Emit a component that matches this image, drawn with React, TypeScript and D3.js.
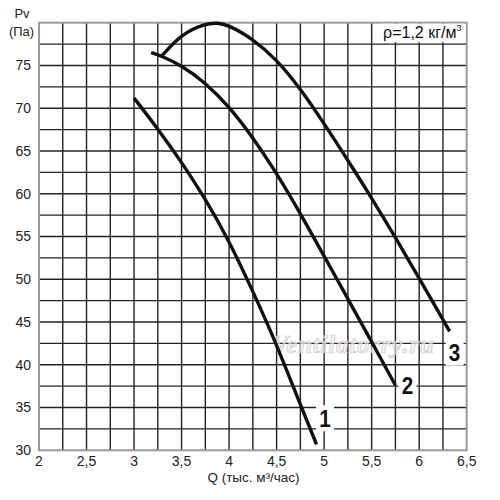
import { useMemo } from "react";
import * as d3 from "d3";

const WIDTH = 500;
const HEIGHT = 500;
const MARGIN = { top: 22.7, right: 33.3, bottom: 49.7, left: 39 };

// flow Q (thousand m3/h) vs pressure Pv (Pa)
const curve1 = [
  [3.0, 71.2], [3.25, 67.6], [3.5, 63.7], [3.75, 59.4], [4.0, 54.5],
  [4.25, 48.6], [4.5, 42.4], [4.75, 35.3], [4.92, 30.7],
];
const curve2 = [
  [3.18, 76.5], [3.29, 76.1], [3.5, 75.0], [3.75, 73.0], [4.0, 70.2],
  [4.25, 66.6], [4.5, 62.4], [4.75, 57.7], [5.0, 52.7], [5.25, 47.7],
  [5.5, 42.7], [5.75, 37.6],
];
const curve3 = [
  [3.29, 76.1], [3.5, 78.7], [3.75, 79.9], [3.88, 80.0], [4.0, 79.7],
  [4.25, 78.1], [4.5, 75.7], [4.75, 72.3], [5.0, 68.2], [5.25, 63.9],
  [5.5, 59.5], [5.75, 54.9], [6.0, 50.1], [6.25, 45.3], [6.32, 43.9],
];
const curves = [curve1, curve2, curve3];
const curveNames = ["1", "2", "3"];

const xTicks = [2, 2.5, 3, 3.5, 4, 4.5, 5, 5.5, 6, 6.5];
const yTicks = [30, 35, 40, 45, 50, 55, 60, 65, 70, 75];

// where each number sits relative to the curve end, px
const LABEL_OFFSETS = [
  [8.5, -17],
  [12, 9],
  [5, 30],
];

const fmt = (v: number) => String(v).replace(".", ",");

export default function App() {
  const bw = WIDTH - MARGIN.left - MARGIN.right;
  const bh = HEIGHT - MARGIN.top - MARGIN.bottom;

  const x = useMemo(() => d3.scaleLinear().domain([2, 6.5]).range([0, bw]), [bw]);
  const y = useMemo(() => d3.scaleLinear().domain([30, 80]).range([bh, 0]), [bh]);

  const line = d3
    .line<number[]>()
    .x((d) => x(d[0]))
    .y((d) => y(d[1]))
    .curve(d3.curveBasis);

  const vGrid = d3.range(2.25, 6.5, 0.25);
  const hGrid = d3.range(32.5, 80, 2.5);

  return (
    <svg
      width={WIDTH}
      height={HEIGHT}
      style={{ position: "absolute", left: 0, top: 0, background: "#fff" }}
      fontFamily="'Liberation Sans', Arial, sans-serif"
    >
      <g transform={`translate(${MARGIN.left},${MARGIN.top})`}>
        {vGrid.map((v) => (
          <line key={"v" + v} x1={x(v)} x2={x(v)} y1={0} y2={bh} stroke="#222" strokeWidth={1.4} />
        ))}
        {hGrid.map((v) => (
          <line key={"h" + v} x1={0} x2={bw} y1={y(v)} y2={y(v)} stroke="#222" strokeWidth={1.4} />
        ))}
        <rect x={0} y={0} width={bw} height={bh} fill="none" stroke="#9a9a9a" strokeWidth={2} />

        <text
          x={x(5.3)}
          y={y(41.4)}
          textAnchor="middle"
          fontFamily="'Liberation Serif', serif"
          fontStyle="italic"
          fontWeight="bold"
          fontSize={25}
          textLength={162}
          fill="#f0f0f0"
          fillOpacity={0.7}
          stroke="#c8c8c8"
          strokeWidth={0.7}
        >
          Ventilatorry.ru
        </text>

        {curves.map((c, i) => (
          <path key={i} d={line(c) || ""} fill="none" stroke="#111" strokeWidth={3.4} />
        ))}

        {curves.map((c, i) => {
          const last = c[c.length - 1];
          const cx = x(last[0]) + LABEL_OFFSETS[i][0];
          const by = y(last[1]) + LABEL_OFFSETS[i][1];
          return (
            <g key={"l" + i}>
              <rect x={cx - 9} y={by - 22} width={18} height={26} fill="#fff" />
              <text
                transform={`translate(${cx},${by}) scale(0.86,1)`}
                textAnchor="middle"
                fontWeight="bold"
                fontSize={24}
                fill="#111"
              >
                {curveNames[i]}
              </text>
            </g>
          );
        })}

        <rect x={x(5.6)} y={1} width={x(6.5) - x(5.6) - 1} height={18.5} fill="#fff" />
        <text x={x(5.62)} y={15.5} fontSize={16} fill="#111">
          ρ=1,2 кг/м
          <tspan dy={-7} fontSize={9}>3</tspan>
        </text>

        {yTicks.map((t) => (
          <text key={"yt" + t} x={-8} y={y(t)} dy="0.35em" textAnchor="end" fontSize={14} fill="#222">
            {t}
          </text>
        ))}
        {xTicks.map((t) => (
          <text key={"xt" + t} x={x(t)} y={bh + 16} textAnchor="middle" fontSize={14} fill="#222">
            {fmt(t)}
          </text>
        ))}
      </g>

      <text x={22} y={18} textAnchor="middle" fontSize={13} fill="#222">Pv</text>
      <text x={21.5} y={36} textAnchor="middle" fontSize={13} fill="#222">(Па)</text>
      <text x={253.5} y={482} textAnchor="middle" fontSize={13.5} fill="#222">
        Q (тыс. м³/час)
      </text>
    </svg>
  );
}
